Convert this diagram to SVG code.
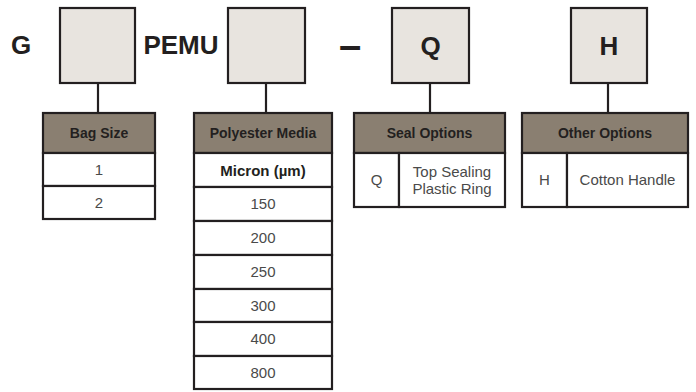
<svg xmlns="http://www.w3.org/2000/svg" width="696" height="392" viewBox="0 0 696 392">
<style>
.box{fill:#e8e4df;stroke:#231f20;stroke-width:2.2}
.hdr{fill:#8a7f71;stroke:#231f20;stroke-width:2.2}
.cell{fill:#ffffff;stroke:#231f20;stroke-width:2.2}
.big{font-family:"Liberation Sans",Arial,sans-serif;font-weight:bold;font-size:26px;fill:#231f20;text-anchor:middle}
.ht{font-family:"Liberation Sans",Arial,sans-serif;font-weight:bold;font-size:14px;fill:#231f20;text-anchor:middle}
.bt{font-family:"Liberation Sans",Arial,sans-serif;font-size:15px;fill:#4a4a4a;text-anchor:middle}
.bb{font-family:"Liberation Sans",Arial,sans-serif;font-weight:bold;font-size:15px;fill:#231f20;text-anchor:middle}
.conn{stroke:#231f20;stroke-width:2.2;fill:none}
</style>
<g id="labels">
<text class="big" x="21" y="54">G</text>
<text class="big" x="181" y="54">PEMU</text>
<text class="big" x="350" y="59" style="font-size:40px">–</text>
</g>
<g id="connectors">
<line class="conn" x1="98" y1="83" x2="98" y2="113"/>
<line class="conn" x1="266" y1="83" x2="266" y2="113"/>
<line class="conn" x1="430" y1="83" x2="430" y2="113"/>
<line class="conn" x1="608" y1="83" x2="608" y2="113"/>
</g>
<g id="box-bagsize"><rect class="box" x="60" y="8" width="75" height="75"/></g>
<g id="box-micron"><rect class="box" x="228" y="8" width="77" height="75"/></g>
<g id="box-seal"><rect class="box" x="392" y="8" width="77" height="75"/><text class="big" x="430.5" y="55">Q</text></g>
<g id="box-other"><rect class="box" x="571" y="8" width="76" height="75"/><text class="big" x="609" y="55">H</text></g>
<g id="table-bagsize">
<rect class="hdr" x="43" y="113" width="112" height="40"/>
<text class="ht" x="99" y="138">Bag Size</text>
<rect class="cell" x="43" y="153" width="112" height="33"/>
<text class="bt" x="99" y="175">1</text>
<rect class="cell" x="43" y="186" width="112" height="33"/>
<text class="bt" x="99" y="208">2</text>
</g>
<g id="table-polyester">
<rect class="hdr" x="194" y="113" width="138" height="40"/>
<text class="ht" x="263" y="138">Polyester Media</text>
<rect class="cell" x="194" y="153" width="138" height="34"/>
<text class="bb" x="263" y="176">Micron (µm)</text>
<rect class="cell" x="194" y="187" width="138" height="34"/>
<text class="bt" x="263" y="209">150</text>
<rect class="cell" x="194" y="221" width="138" height="34"/>
<text class="bt" x="263" y="243">200</text>
<rect class="cell" x="194" y="255" width="138" height="34"/>
<text class="bt" x="263" y="277">250</text>
<rect class="cell" x="194" y="289" width="138" height="33"/>
<text class="bt" x="263" y="311">300</text>
<rect class="cell" x="194" y="322" width="138" height="34"/>
<text class="bt" x="263" y="344">400</text>
<rect class="cell" x="194" y="356" width="138" height="33"/>
<text class="bt" x="263" y="378">800</text>
</g>
<g id="table-seal">
<rect class="hdr" x="354" y="113" width="151" height="40"/>
<text class="ht" x="429.5" y="138">Seal Options</text>
<rect class="cell" x="354" y="153" width="45" height="54"/>
<text class="bt" x="376.5" y="185">Q</text>
<rect class="cell" x="399" y="153" width="106" height="54"/>
<text class="bt" x="452" y="177">Top Sealing</text>
<text class="bt" x="452" y="194">Plastic Ring</text>
</g>
<g id="table-other">
<rect class="hdr" x="522" y="113" width="166" height="40"/>
<text class="ht" x="605" y="138">Other Options</text>
<rect class="cell" x="522" y="153" width="45" height="54"/>
<text class="bt" x="544.5" y="185">H</text>
<rect class="cell" x="567" y="153" width="121" height="54"/>
<text class="bt" x="627.5" y="185">Cotton Handle</text>
</g>
</svg>
